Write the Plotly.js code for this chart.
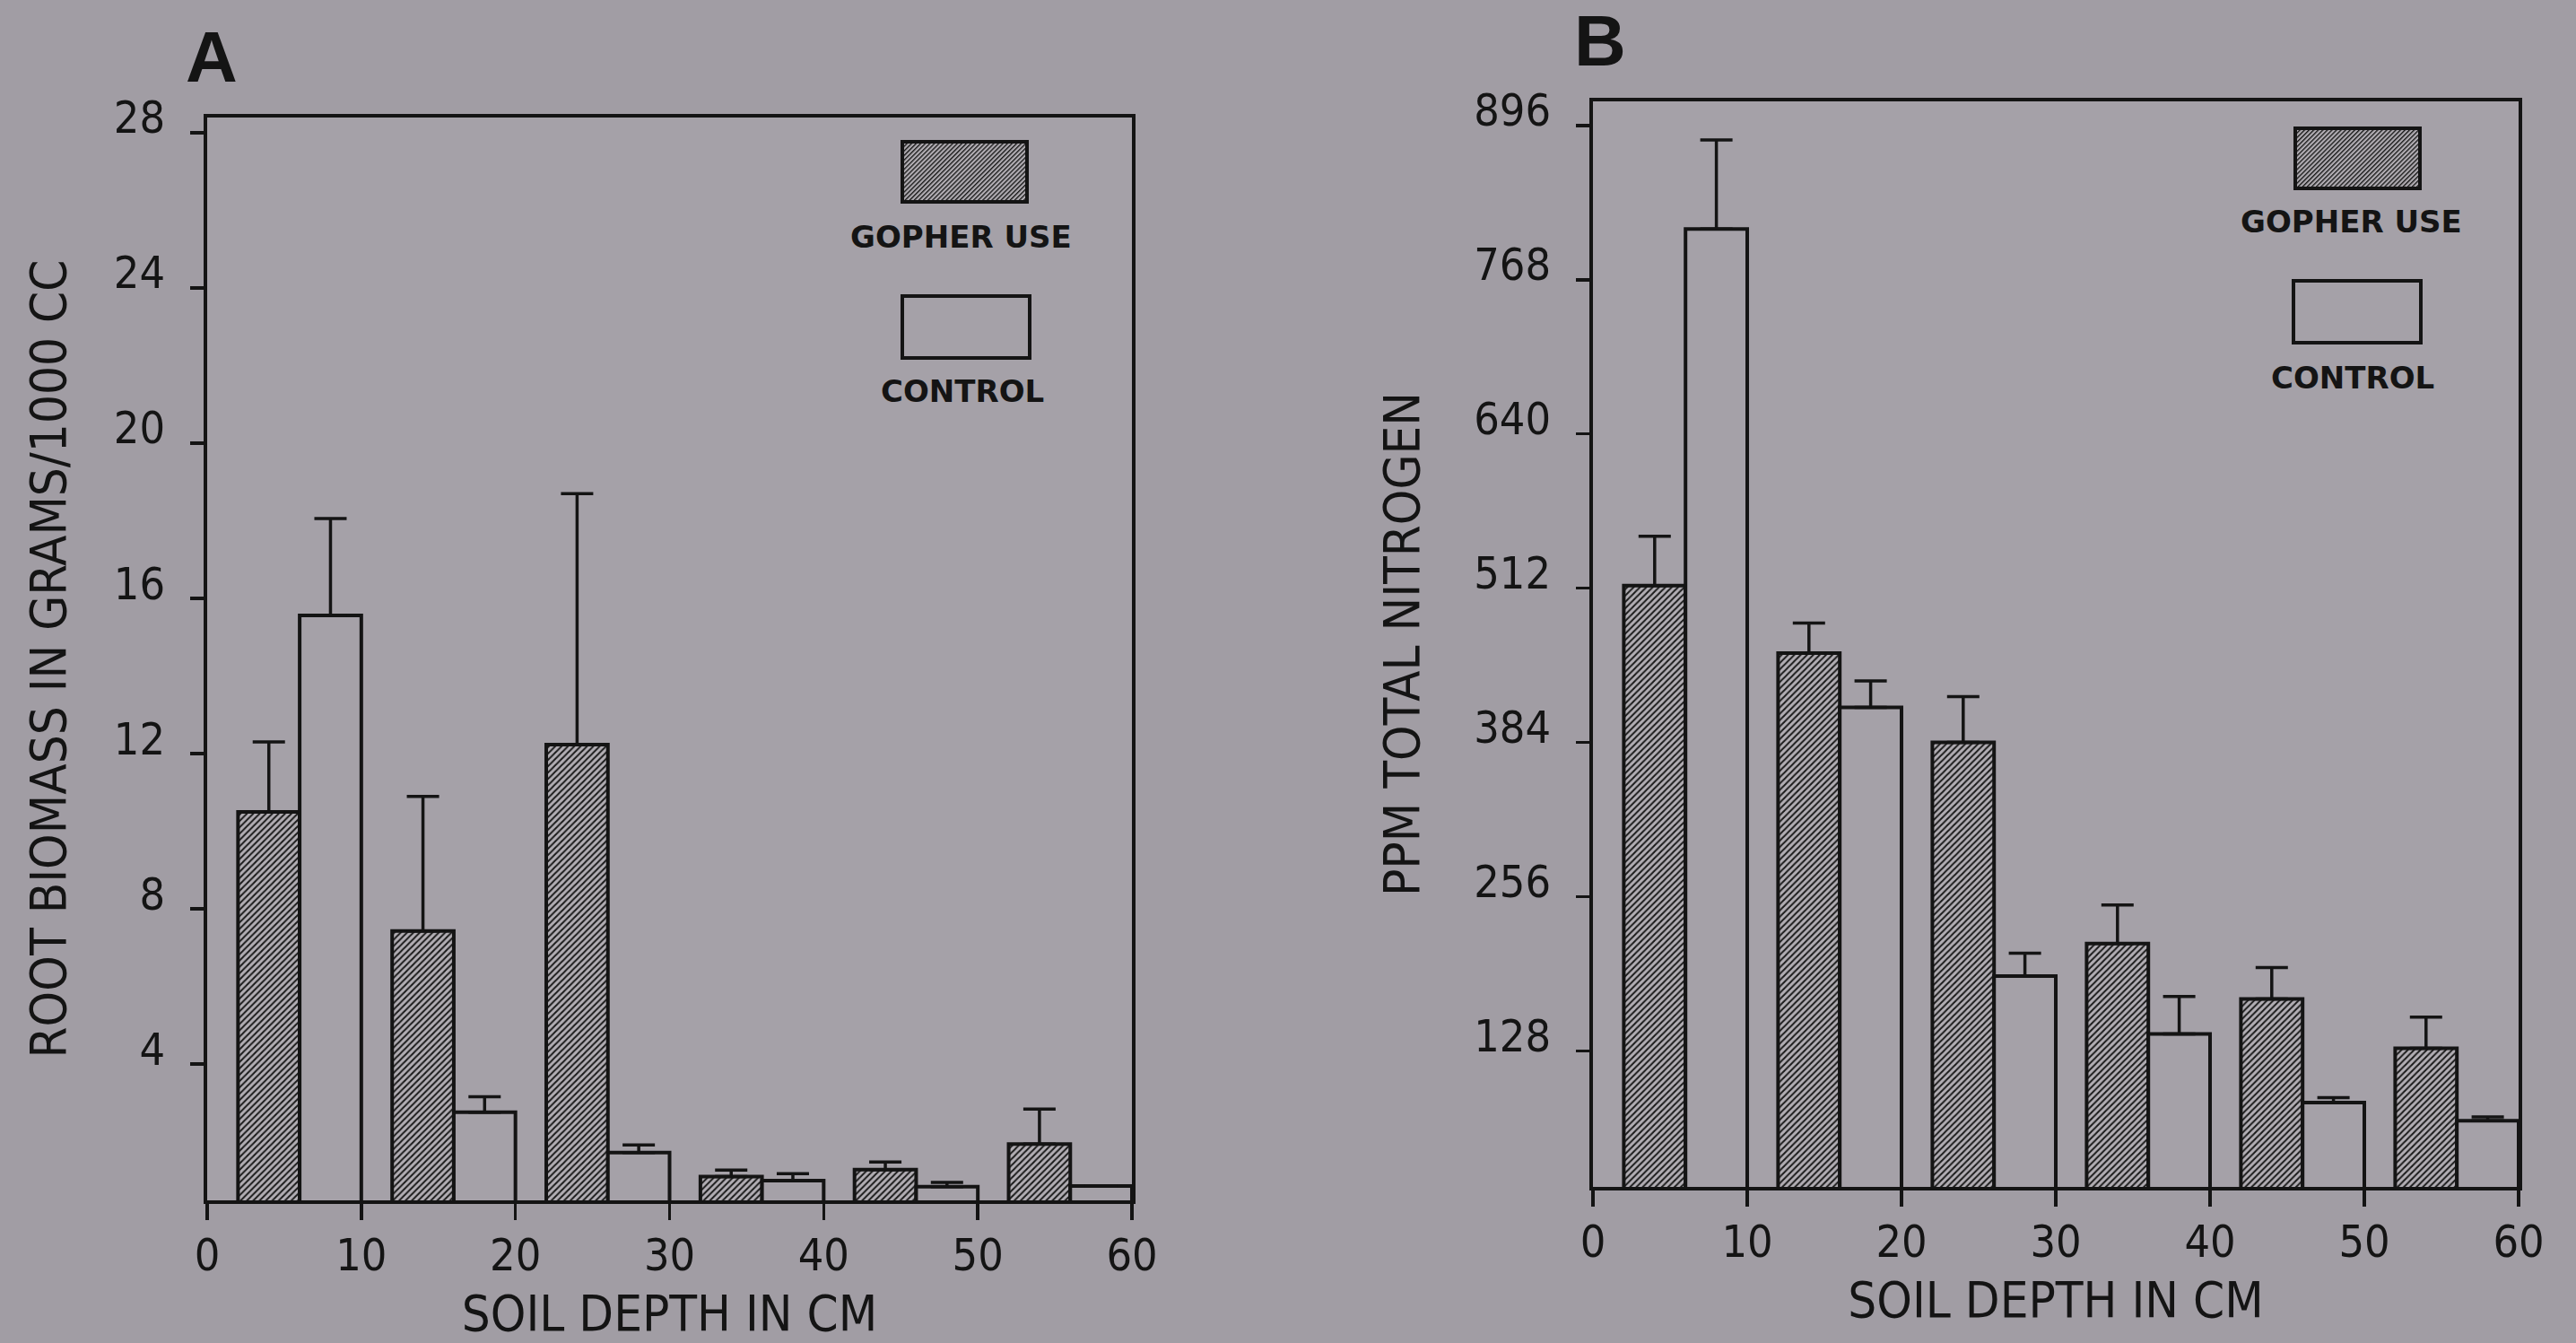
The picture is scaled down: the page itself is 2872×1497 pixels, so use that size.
<!DOCTYPE html>
<html>
<head>
<meta charset="utf-8">
<script src="https://cdn.plot.ly/plotly-3.0.1.min.js"></script>
<style>html,body{margin:0;padding:0;background:#a19da4;}#chart{width:2872px;height:1497px;}</style>
</head>
<body>
<div id="chart"></div>
<script>
// ---- data ----
const depthStart = [0, 10, 20, 30, 40, 50];          // start of each 10 cm soil layer
const xTicks = [0, 10, 20, 30, 40, 50, 60];

// Panel A: root biomass (g / 1000 cc)
const rootGopher = [10.5, 7.43, 12.23, 1.10, 1.28, 1.94];
const rootGopherErr = [1.8, 3.47, 6.47, 0.17, 0.20, 0.90];
const rootControl = [15.56, 2.76, 1.72, 1.00, 0.84, 0.86];
const rootControlErr = [2.50, 0.40, 0.20, 0.18, 0.11, 0.0];
const rootTicks = [4, 8, 12, 16, 20, 24, 28];

// Panel B: total nitrogen (ppm)
const nGopher = [514, 458, 384, 217, 171, 130];
const nGopherErr = [41, 25, 38, 32, 26, 26];
const nControl = [810, 413, 190, 142, 85, 70];
const nControlErr = [74, 22, 19, 31, 4, 3];
const nTicks = [128, 256, 384, 512, 640, 768, 896];

const legendLabels = ['GOPHER USE', 'CONTROL'];

// ---- styles ----
const BG = '#a19da4';
const PLOTBG = '#a5a1a8';
const INK = '#141414';
const tickFont = {family: 'DejaVu Sans Condensed, DejaVu Sans, sans-serif', size: 50, color: INK};
const titleFont = {family: 'DejaVu Sans Condensed, DejaVu Sans, sans-serif', size: 56, color: INK};
const legFont = {family: 'DejaVu Sans, sans-serif', size: 34, color: INK, weight: 'bold', stretch: 'condensed'};

const hatch = {shape: '/', fgcolor: '#1a1a1a', bgcolor: '#b2aeb4', size: 5, solidity: 0.4, fillmode: 'replace'};

function gopherTrace(vals, errs, xa, ya) {
  return {
    type: 'bar', x: depthStart, y: vals, xaxis: xa, yaxis: ya,
    offset: 2, width: 4, name: legendLabels[0],
    marker: {color: '#b2aeb4', pattern: hatch, line: {color: INK, width: 4}},
    error_y: {type: 'data', symmetric: false, array: errs, arrayminus: errs.map(() => 0),
              color: INK, thickness: 3.5, width: 18},
    hoverinfo: 'skip'
  };
}
function controlTrace(vals, errs, xa, ya) {
  return {
    type: 'bar', x: depthStart, y: vals, xaxis: xa, yaxis: ya,
    offset: 6, width: 4, name: legendLabels[1],
    marker: {color: PLOTBG, line: {color: INK, width: 4}},
    error_y: {type: 'data', symmetric: false, array: errs, arrayminus: errs.map(() => 0),
              color: INK, thickness: 3.5, width: 18},
    hoverinfo: 'skip'
  };
}

const data = [
  gopherTrace(rootGopher, rootGopherErr, 'x', 'y'),
  controlTrace(rootControl, rootControlErr, 'x', 'y'),
  gopherTrace(nGopher, nGopherErr, 'x2', 'y2'),
  controlTrace(nControl, nControlErr, 'x2', 'y2')
];

function xAxis(domain, anchor) {
  return {
    domain: domain, anchor: anchor, range: [0, 60], tickvals: xTicks,
    ticks: 'outside', ticklen: 18, tickwidth: 3.5, tickcolor: INK,
    showline: true, linewidth: 4, linecolor: INK, mirror: true,
    showgrid: false, zeroline: false, tickfont: tickFont, ticklabelstandoff: -4,
    title: {text: 'SOIL DEPTH IN CM', font: titleFont, standoff: 18}
  };
}
function yAxis(domain, anchor, range, tickvals, title, standoff) {
  return {
    domain: domain, anchor: anchor, range: range, tickvals: tickvals,
    ticks: 'outside', ticklen: 15, tickwidth: 3.5, tickcolor: INK,
    showline: true, linewidth: 4, linecolor: INK, mirror: true,
    showgrid: false, zeroline: false, tickfont: tickFont,
    ticklabelshift: -17, ticklabelstandoff: 18,
    title: {text: title, font: titleFont, standoff: standoff}
  };
}

const W = 2872, H = 1497;
const px = v => v / W, py = v => 1 - v / H;

const hatchSvg = "<svg xmlns='http://www.w3.org/2000/svg' width='143' height='71' viewBox='0 0 143 71'>" +
  "<defs><pattern id='h' width='3.6' height='3.6' patternUnits='userSpaceOnUse' patternTransform='rotate(45)'>" +
  "<rect width='3.6' height='3.6' fill='#b2aeb4'/><rect width='1.4' height='3.6' fill='#1a1a1a'/></pattern></defs>" +
  "<rect x='2' y='2' width='139' height='67' fill='url(#h)' stroke='#141414' stroke-width='4'/></svg>";
const hatchSrc = 'data:image/svg+xml;charset=utf-8,' + encodeURIComponent(hatchSvg);

function legendImage(left, top) {
  return {source: hatchSrc, xref: 'paper', yref: 'paper', x: px(left), y: py(top),
          sizex: px(143), sizey: 71 / H, sizing: 'stretch', xanchor: 'left', yanchor: 'top', layer: 'above'};
}
function legendBox(left, top) {
  return {type: 'rect', xref: 'paper', yref: 'paper', x0: px(left), x1: px(left + 142),
          y0: py(top), y1: py(top + 69), line: {color: INK, width: 4}, fillcolor: 'rgba(0,0,0,0)'};
}
function legendText(text, cx, cy) {
  return {text: text, xref: 'paper', yref: 'paper', x: px(cx), y: py(cy), showarrow: false,
          font: legFont, xanchor: 'center', yanchor: 'middle'};
}

const layout = {
  width: W, height: H,
  paper_bgcolor: BG, plot_bgcolor: PLOTBG,
  margin: {l: 0, r: 0, t: 0, b: 0},
  showlegend: false, barmode: 'overlay',
  xaxis: xAxis([231 / W, 1262 / W], 'y'),
  yaxis: yAxis([(H - 1338) / H, (H - 131) / H], 'x', [0.49, 28.39], rootTicks,
               'ROOT BIOMASS IN GRAMS/1000 CC', 36),
  xaxis2: xAxis([1776 / W, 2808 / W], 'y2'),
  yaxis2: yAxis([(H - 1323) / H, (H - 113) / H], 'x2', [15, 916], nTicks,
                'PPM TOTAL NITROGEN', 44),
  images: [legendImage(1004, 156), legendImage(2557, 141)],
  shapes: [legendBox(1006, 330), legendBox(2557, 313)],
  annotations: [
    legendText(legendLabels[0], 1071, 264), legendText(legendLabels[1], 1073, 436),
    legendText(legendLabels[0], 2621, 247), legendText(legendLabels[1], 2623, 421),
    {text: '<b>A</b>', xref: 'paper', yref: 'paper', x: px(236), y: py(64), showarrow: false,
     font: {family: 'Liberation Sans, Arial, sans-serif', size: 80, color: INK}, xanchor: 'center', yanchor: 'middle'},
    {text: '<b>B</b>', xref: 'paper', yref: 'paper', x: px(1784), y: py(46), showarrow: false,
     font: {family: 'Liberation Sans, Arial, sans-serif', size: 80, color: INK}, xanchor: 'center', yanchor: 'middle'}
  ]
};

Plotly.newPlot('chart', data, layout, {staticPlot: true, displayModeBar: false});
</script>
</body>
</html>
